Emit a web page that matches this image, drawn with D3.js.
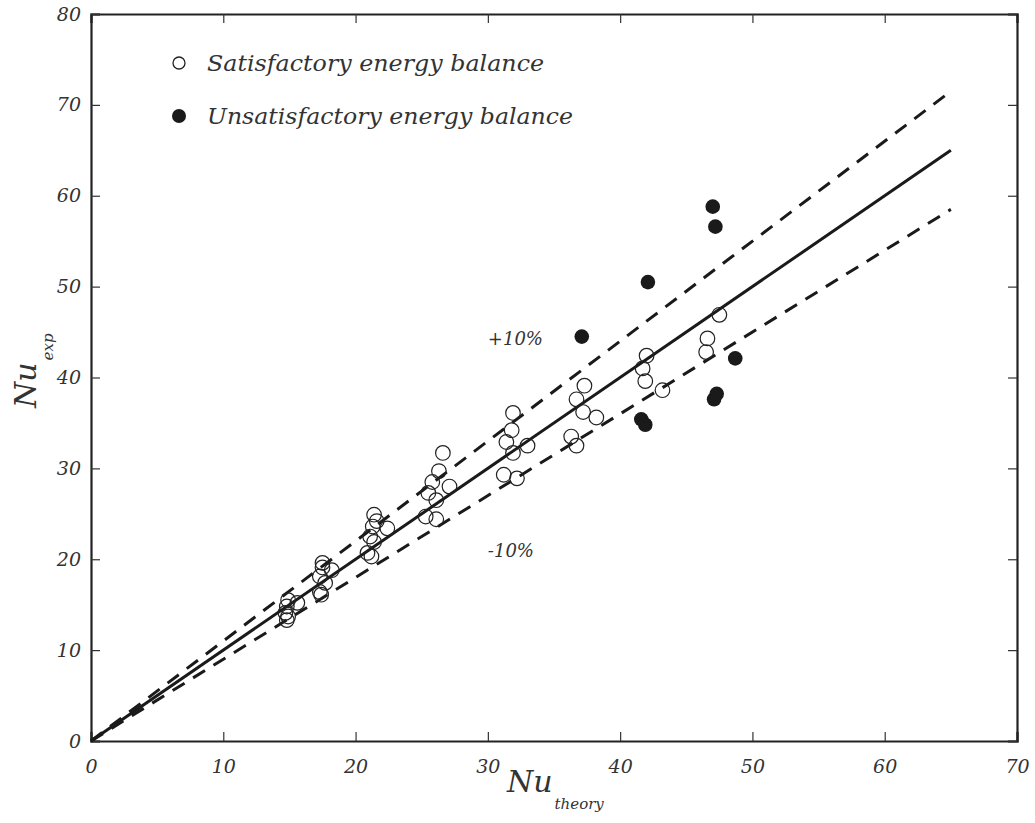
<!DOCTYPE html>
<html>
<head>
<meta charset="utf-8">
<script src="https://cdn.jsdelivr.net/npm/d3@7"></script>
<style>
  body { margin: 0; background: #fff; }
  text { font-family: "DejaVu Serif", "Liberation Serif", serif; font-style: italic; fill: #333; }
</style>
</head>
<body>
<div id="chart"></div>
<script>
// Satisfactory energy balance (open circles): [Nu_theory, Nu_exp]
var satTheory = [14.9, 15.6, 14.8, 14.7, 14.8, 14.9,
                 17.5, 17.5, 18.2, 17.3, 17.7, 17.3, 17.4,
                 21.4, 21.6, 21.3, 22.4, 21.1, 21.4, 20.9, 21.2,
                 26.6, 26.3, 25.8, 27.1, 25.5, 26.1, 25.3, 26.1,
                 31.9, 31.8, 31.4, 31.9, 33.0, 31.2, 32.2,
                 37.3, 36.7, 37.2, 38.2, 36.3, 36.7,
                 47.5, 46.6, 46.5, 42.0, 41.7, 41.9, 43.2];
var satExp    = [15.5, 15.2, 14.8, 14.1, 13.3, 13.7,
                 19.6, 19.1, 18.8, 18.1, 17.4, 16.4, 16.1,
                 24.9, 24.2, 23.6, 23.4, 22.5, 21.9, 20.7, 20.3,
                 31.7, 29.7, 28.5, 28.0, 27.3, 26.5, 24.7, 24.4,
                 36.1, 34.2, 32.9, 31.7, 32.5, 29.3, 28.9,
                 39.1, 37.6, 36.2, 35.6, 33.5, 32.5,
                 46.9, 44.3, 42.8, 42.4, 41.0, 39.6, 38.6];

// Unsatisfactory energy balance (filled circles)
var unsatTheory = [47.0, 47.2, 42.1, 37.1, 48.7, 47.1, 47.3, 41.6, 41.9];
var unsatExp    = [58.8, 56.6, 50.5, 44.5, 42.1, 37.6, 38.2, 35.4, 34.8];

// reference lines: Nu_exp = k * Nu_theory
var lineFactors = [1.0, 1.1, 0.9];
var lineEnd = 65;

var xTicks = [0, 10, 20, 30, 40, 50, 60, 70];
var yTicks = [0, 10, 20, 30, 40, 50, 60, 70, 80];

var legendLabels = ["Satisfactory energy balance", "Unsatisfactory energy balance"];

var W = 1035, H = 823;
var margin = { top: 14, right: 18, bottom: 82, left: 91 };
var width = W - margin.left - margin.right,
    height = H - margin.top - margin.bottom;

var serif = "'DejaVu Serif', 'Liberation Serif', serif";

var svg = d3.select("#chart").append("svg")
    .attr("width", W)
    .attr("height", H);

var g = svg.append("g")
    .attr("transform", "translate(" + margin.left + "," + margin.top + ")");

var x = d3.scaleLinear().domain([0, 70]).range([0, width]);
var y = d3.scaleLinear().domain([0, 80]).range([height, 0]);

// ticks inward on all four sides
var tickLen = 9;
g.append("g").attr("transform", "translate(0," + height + ")")
    .call(d3.axisBottom(x).tickValues(xTicks).tickSize(-tickLen).tickPadding(19).tickFormat(d3.format("d")))
    .call(styleAxis);
g.append("g")
    .call(d3.axisTop(x).tickValues(xTicks).tickSize(-tickLen).tickFormat(""))
    .call(styleAxis);
g.append("g")
    .call(d3.axisLeft(y).tickValues(yTicks).tickSize(-tickLen).tickPadding(10).tickFormat(d3.format("d")))
    .call(styleAxis);
g.append("g").attr("transform", "translate(" + width + ",0)")
    .call(d3.axisRight(y).tickValues(yTicks).tickSize(-tickLen).tickFormat(""))
    .call(styleAxis);

function styleAxis(sel) {
    sel.select(".domain").attr("stroke", "#222").attr("stroke-width", 2.2);
    sel.selectAll(".tick line").attr("stroke", "#333").attr("stroke-width", 1.2);
    sel.selectAll(".tick text")
        .attr("font-family", serif)
        .attr("font-style", "italic")
        .attr("font-size", 19)
        .attr("fill", "#333");
}

// reference lines
var lineGen = d3.line().x(d => x(d[0])).y(d => y(d[1]));
g.selectAll(".ref-line")
    .data(lineFactors)
    .enter().append("path")
    .attr("class", "ref-line")
    .attr("d", k => lineGen([[0, 0], [lineEnd, k * lineEnd]]))
    .attr("fill", "none")
    .attr("stroke", "#1a1a1a")
    .attr("stroke-width", 3)
    .attr("stroke-dasharray", k => k === 1 ? null : "14,10");

// line labels
g.append("text").attr("x", x(30)).attr("y", y(43.6)).attr("font-size", 18).text("+10%");
g.append("text").attr("x", x(30)).attr("y", y(20.3)).attr("font-size", 18).text("-10%");

// data points
var satData = satTheory.map((d, i) => [d, satExp[i]]);
var unsatData = unsatTheory.map((d, i) => [d, unsatExp[i]]);

g.selectAll(".sat")
    .data(satData)
    .enter().append("circle")
    .attr("class", "sat")
    .attr("cx", d => x(d[0]))
    .attr("cy", d => y(d[1]))
    .attr("r", 7.3)
    .attr("fill", "none")
    .attr("stroke", "#222")
    .attr("stroke-width", 1.2);

g.selectAll(".unsat")
    .data(unsatData)
    .enter().append("circle")
    .attr("class", "unsat")
    .attr("cx", d => x(d[0]))
    .attr("cy", d => y(d[1]))
    .attr("r", 7.3)
    .attr("fill", "#1a1a1a");

// legend
var legend = svg.append("g").attr("class", "legend");
legend.append("circle").attr("cx", 179).attr("cy", 63).attr("r", 6)
    .attr("fill", "none").attr("stroke", "#222").attr("stroke-width", 1.3);
legend.append("circle").attr("cx", 179).attr("cy", 116).attr("r", 7)
    .attr("fill", "#1a1a1a");
legend.append("text").attr("x", 207).attr("y", 71).attr("font-size", 23)
    .attr("textLength", 337).attr("lengthAdjust", "spacingAndGlyphs").text(legendLabels[0]);
legend.append("text").attr("x", 207).attr("y", 124).attr("font-size", 23)
    .attr("textLength", 366).attr("lengthAdjust", "spacingAndGlyphs").text(legendLabels[1]);

// axis titles
var xt = svg.append("text").attr("x", 507).attr("y", 792).attr("font-size", 30);
xt.append("tspan").text("Nu");
xt.append("tspan").attr("font-size", 15).attr("dy", 17).attr("dx", 2).text("theory");

var yt = svg.append("text")
    .attr("transform", "translate(36,408) rotate(-90)")
    .attr("font-size", 30);
yt.append("tspan").text("Nu");
yt.append("tspan").attr("font-size", 15).attr("dy", 17).attr("dx", 2).text("exp");
</script>
</body>
</html>
